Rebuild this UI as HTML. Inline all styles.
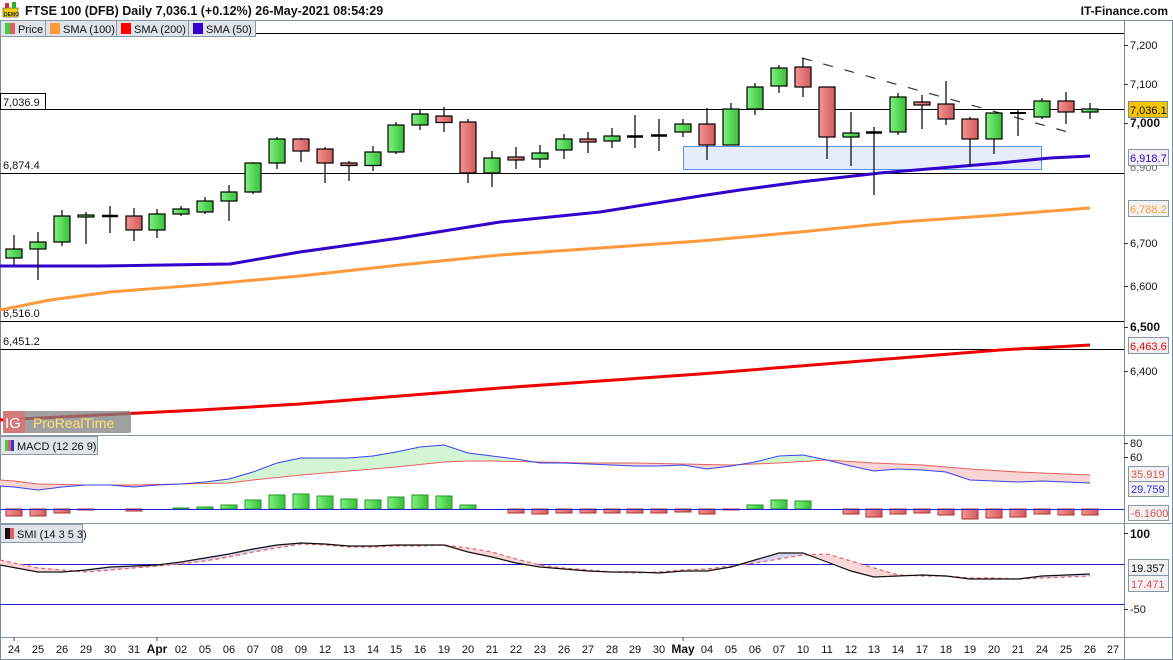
<!DOCTYPE html>
<html><head><meta charset="utf-8"><style>
html,body{margin:0;padding:0;background:#fff;}
body{width:1173px;height:660px;overflow:hidden;font-family:"Liberation Sans",sans-serif;}
svg{display:block}
</style></head><body>
<svg width="1173" height="660" viewBox="0 0 1173 660" xmlns="http://www.w3.org/2000/svg" font-family="Liberation Sans, sans-serif">
<defs>
<linearGradient id="gg" x1="0" x2="1" y1="0" y2="0"><stop offset="0" stop-color="#80f080"/><stop offset="1" stop-color="#38c038"/></linearGradient>
<linearGradient id="rg" x1="0" x2="1" y1="0" y2="0"><stop offset="0" stop-color="#f49494"/><stop offset="1" stop-color="#d25a5a"/></linearGradient>
<clipPath id="plot"><rect x="0" y="38" width="1124" height="600"/></clipPath>
<clipPath id="macdUp"><polygon points="0,435 0,480 14,481 38,484 86,485 134,485 181,484 229,483 253,480 301,475 349,471 396,467 444,462 468,461 492,461 540,462 588,463 635,463 683,464 731,465 779,463 827,460 874,463 922,465 970,469 1018,472 1066,474 1090,475 1124,475 1124,435"/></clipPath>
<clipPath id="macdDn"><polygon points="0,523 0,480 14,481 38,484 86,485 134,485 181,484 229,483 253,480 301,475 349,471 396,467 444,462 468,461 492,461 540,462 588,463 635,463 683,464 731,465 779,463 827,460 874,463 922,465 970,469 1018,472 1066,474 1090,475 1124,475 1124,523"/></clipPath>
<clipPath id="smiUp"><polygon points="0,523 0,560 38,568 62,570 86,572 110,570 134,568 157,566 181,564 205,561 229,557 253,552 277,548 301,544 325,545 349,547 373,547 396,546 420,546 444,545 468,548 492,552 516,559 540,565 564,568 588,570 612,572 635,573 659,572 683,570 707,569 731,566 755,563 779,559 803,555 827,554 851,561 874,568 898,575 922,576 946,576 970,578 994,578 1018,579 1042,578 1066,577 1090,576 1124,576 1124,523"/></clipPath>
<clipPath id="smiDn"><polygon points="0,637 0,560 38,568 62,570 86,572 110,570 134,568 157,566 181,564 205,561 229,557 253,552 277,548 301,544 325,545 349,547 373,547 396,546 420,546 444,545 468,548 492,552 516,559 540,565 564,568 588,570 612,572 635,573 659,572 683,570 707,569 731,566 755,563 779,559 803,555 827,554 851,561 874,568 898,575 922,576 946,576 970,578 994,578 1018,579 1042,578 1066,577 1090,576 1124,576 1124,637"/></clipPath>
</defs>

<!-- header -->
<rect x="0" y="0" width="1173" height="20" fill="#fff"/>
<rect x="3" y="8" width="15" height="9" fill="#f2d200" stroke="#444" stroke-width="0.6"/>
<rect x="5" y="3" width="4" height="5" fill="#d03030"/><rect x="12" y="2" width="4" height="6" fill="#30b030"/>
<text x="4" y="16" font-size="5" font-weight="bold" fill="#222">DEMO</text>
<text x="25" y="15" font-size="12.5" font-weight="bold" fill="#111">FTSE 100 (DFB) Daily 7,036.1 (+0.12%) 26-May-2021 08:54:29</text>
<text x="1168" y="15" font-size="12" font-weight="bold" fill="#111" text-anchor="end">IT-Finance.com</text>

<!-- panel frame -->
<rect x="0.5" y="20.5" width="1172" height="639" fill="none" stroke="#7a8a96"/>
<line x1="1124.5" y1="20" x2="1124.5" y2="660" stroke="#7a8a96"/>
<line x1="0" y1="435.5" x2="1173" y2="435.5" stroke="#8a98a4"/>
<line x1="0" y1="523.5" x2="1173" y2="523.5" stroke="#8a98a4"/>
<line x1="0" y1="637.5" x2="1173" y2="637.5" stroke="#8a98a4"/>

<!-- horizontal price lines -->
<g stroke="#000" stroke-width="1">
<line x1="255" y1="33.5" x2="1124" y2="33.5"/>
<line x1="0" y1="109.5" x2="1124" y2="109.5"/>
<line x1="0" y1="173.5" x2="1124" y2="173.5"/>
<line x1="0" y1="321.5" x2="1124" y2="321.5"/>
<line x1="0" y1="349.5" x2="1124" y2="349.5"/>
</g>
<rect x="0.5" y="93.5" width="45" height="16" fill="#fff" stroke="#000"/>
<text x="3" y="106" font-size="11" fill="#111">7,036.9</text>
<text x="3" y="169" font-size="11" fill="#111">6,874.4</text>
<text x="3" y="317" font-size="11" fill="#111">6,516.0</text>
<text x="3" y="345" font-size="11" fill="#111">6,451.2</text>

<!-- blue zone -->
<rect x="683.5" y="146.5" width="358" height="23" fill="#dde6fb" fill-opacity="0.75" stroke="#5b8ff0"/>

<!-- trendline -->
<line x1="802" y1="58" x2="1068" y2="132" stroke="#333" stroke-width="1.2" stroke-dasharray="10,12"/>

<!-- SMAs -->
<g clip-path="url(#plot)" fill="none" stroke-linejoin="round">
<polyline stroke="#ff9a3c" stroke-width="3" points="0,310 50,300 110,292 200,285 300,276 400,265 500,255 600,248 700,241 800,232 900,222 1000,215 1090,208"/>
<polyline stroke="#ee0000" stroke-width="3" points="0,420 100,415 200,410 300,404 400,396 500,388 600,381 700,374 800,366 900,358 1000,350 1090,345"/>
<polyline stroke="#3300cc" stroke-width="3" points="0,266 100,266 230,264 300,252 400,238 500,222 600,212 700,196 740,190 800,182 880,173 940,168 1000,163 1050,158 1090,156"/>
</g>

<!-- candles -->
<g stroke="#000" stroke-width="1.2">
<line x1="14" y1="235" x2="14" y2="265"/><rect x="6" y="249" width="16" height="9" fill="url(#gg)"/>
<line x1="38" y1="232" x2="38" y2="280"/><rect x="30" y="242" width="16" height="7" fill="url(#gg)"/>
<line x1="62" y1="210" x2="62" y2="246"/><rect x="54" y="216" width="16" height="26" fill="url(#gg)"/>
<line x1="86" y1="212" x2="86" y2="244"/><rect x="78" y="215" width="16" height="2" fill="url(#gg)"/>
<line x1="110" y1="206" x2="110" y2="233"/><line x1="102" y1="216" x2="118" y2="216" stroke-width="2.5"/>
<line x1="134" y1="208" x2="134" y2="241"/><rect x="126" y="216" width="16" height="14" fill="url(#rg)"/>
<line x1="157" y1="209" x2="157" y2="238"/><rect x="149" y="214" width="16" height="16" fill="url(#gg)"/>
<line x1="181" y1="206" x2="181" y2="216"/><rect x="173" y="209" width="16" height="5" fill="url(#gg)"/>
<line x1="205" y1="197" x2="205" y2="214"/><rect x="197" y="201" width="16" height="11" fill="url(#gg)"/>
<line x1="229" y1="185" x2="229" y2="221"/><rect x="221" y="192" width="16" height="9" fill="url(#gg)"/>
<line x1="253" y1="162" x2="253" y2="194"/><rect x="245" y="163" width="16" height="29" fill="url(#gg)"/>
<line x1="277" y1="137" x2="277" y2="169"/><rect x="269" y="139" width="16" height="24" fill="url(#gg)"/>
<line x1="301" y1="138" x2="301" y2="162"/><rect x="293" y="139" width="16" height="12" fill="url(#rg)"/>
<line x1="325" y1="147" x2="325" y2="183"/><rect x="317" y="149" width="16" height="14" fill="url(#rg)"/>
<line x1="349" y1="161" x2="349" y2="181"/><rect x="341" y="163" width="16" height="2.5" fill="url(#rg)"/>
<line x1="373" y1="146" x2="373" y2="171"/><rect x="365" y="152" width="16" height="13.5" fill="url(#gg)"/>
<line x1="396" y1="122" x2="396" y2="154"/><rect x="388" y="125" width="16" height="27" fill="url(#gg)"/>
<line x1="420" y1="110" x2="420" y2="130"/><rect x="412" y="114" width="16" height="11" fill="url(#gg)"/>
<line x1="444" y1="107" x2="444" y2="132"/><rect x="436" y="116" width="16" height="6.5" fill="url(#rg)"/>
<line x1="468" y1="119" x2="468" y2="183"/><rect x="460" y="122" width="16" height="51" fill="url(#rg)"/>
<line x1="492" y1="151" x2="492" y2="187"/><rect x="484" y="158" width="16" height="15" fill="url(#gg)"/>
<line x1="516" y1="147" x2="516" y2="169"/><rect x="508" y="157" width="16" height="3" fill="url(#rg)"/>
<line x1="540" y1="145" x2="540" y2="168"/><rect x="532" y="153" width="16" height="6" fill="url(#gg)"/>
<line x1="564" y1="134" x2="564" y2="159"/><rect x="556" y="139" width="16" height="11" fill="url(#gg)"/>
<line x1="588" y1="132" x2="588" y2="153"/><rect x="580" y="139" width="16" height="3" fill="url(#rg)"/>
<line x1="612" y1="128" x2="612" y2="148"/><rect x="604" y="136" width="16" height="5" fill="url(#gg)"/>
<line x1="635" y1="115" x2="635" y2="148"/><line x1="627" y1="136.5" x2="643" y2="136.5" stroke-width="2.5"/>
<line x1="659" y1="119" x2="659" y2="151"/><line x1="651" y1="135.5" x2="667" y2="135.5" stroke-width="2.5"/>
<line x1="683" y1="119" x2="683" y2="137"/><rect x="675" y="124" width="16" height="8" fill="url(#gg)"/>
<line x1="707" y1="108" x2="707" y2="160"/><rect x="699" y="124" width="16" height="21" fill="url(#rg)"/>
<line x1="731" y1="103" x2="731" y2="145"/><rect x="723" y="109" width="16" height="36" fill="url(#gg)"/>
<line x1="755" y1="83" x2="755" y2="115"/><rect x="747" y="87" width="16" height="22" fill="url(#gg)"/>
<line x1="779" y1="65" x2="779" y2="93"/><rect x="771" y="68" width="16" height="18" fill="url(#gg)"/>
<line x1="803" y1="58" x2="803" y2="97"/><rect x="795" y="67" width="16" height="20" fill="url(#rg)"/>
<line x1="827" y1="87" x2="827" y2="159"/><rect x="819" y="87" width="16" height="50" fill="url(#rg)"/>
<line x1="851" y1="112" x2="851" y2="166"/><rect x="843" y="133" width="16" height="4" fill="url(#gg)"/>
<line x1="874" y1="127" x2="874" y2="195"/><line x1="866" y1="132.5" x2="882" y2="132.5" stroke-width="2.5"/>
<line x1="898" y1="93" x2="898" y2="135"/><rect x="890" y="97" width="16" height="35" fill="url(#gg)"/>
<line x1="922" y1="95" x2="922" y2="129"/><rect x="914" y="102" width="16" height="3" fill="url(#rg)"/>
<line x1="946" y1="81" x2="946" y2="125"/><rect x="938" y="104" width="16" height="15" fill="url(#rg)"/>
<line x1="970" y1="117" x2="970" y2="166"/><rect x="962" y="119" width="16" height="20" fill="url(#rg)"/>
<line x1="994" y1="113" x2="994" y2="154"/><rect x="986" y="113" width="16" height="26" fill="url(#gg)"/>
<line x1="1018" y1="110" x2="1018" y2="136"/><line x1="1010" y1="113" x2="1026" y2="113" stroke-width="2"/>
<line x1="1042" y1="98" x2="1042" y2="119"/><rect x="1034" y="101" width="16" height="16" fill="url(#gg)"/>
<line x1="1066" y1="92" x2="1066" y2="124"/><rect x="1058" y="101" width="16" height="11" fill="url(#rg)"/>
<line x1="1090" y1="103" x2="1090" y2="119"/><rect x="1082" y="109" width="16" height="3" fill="url(#gg)"/>
</g>

<!-- ProRealTime watermark -->
<rect x="3" y="411" width="128" height="22" rx="2" fill="#808080" fill-opacity="0.75"/>
<rect x="3" y="411" width="22" height="22" fill="#e07070" fill-opacity="0.8"/>
<text x="5" y="428" font-size="15" fill="#fff">IG</text>
<text x="33" y="428" font-size="14" fill="#ffe070">ProRealTime</text>

<!-- legend -->
<g font-size="11" fill="#111">
<rect x="0.5" y="20.5" width="255" height="16" fill="#dfe4ea" stroke="#8a98a4"/>
<line x1="45.5" y1="20" x2="45.5" y2="37" stroke="#8a98a4"/>
<line x1="116.5" y1="20" x2="116.5" y2="37" stroke="#8a98a4"/>
<line x1="188.5" y1="20" x2="188.5" y2="37" stroke="#8a98a4"/>
<rect x="5" y="23" width="5" height="11" fill="#44cc44"/><rect x="10" y="23" width="5" height="11" fill="#e06060"/>
<text x="18" y="33">Price</text>
<rect x="50" y="23" width="10" height="11" fill="#ff9a3c"/><text x="63" y="33">SMA (100)</text>
<rect x="121" y="23" width="10" height="11" fill="#ff0000"/><text x="134" y="33">SMA (200)</text>
<rect x="193" y="23" width="10" height="11" fill="#3300cc"/><text x="206" y="33">SMA (50)</text>
</g>

<!-- MACD -->
<g>
<polygon clip-path="url(#macdUp)" fill="#d4f5d4" points="0,486 14,487 38,490 62,487 86,485 110,485 134,487 157,485 181,484 205,482 229,479 253,472 277,463 301,458 325,458 349,458 373,456 396,452 420,447 444,445 468,453 492,456 516,459 540,463 564,463 588,464 612,465 635,466 659,466 683,465 707,469 731,466 755,462 779,456 803,455 827,460 851,466 874,471 898,469 922,470 946,472 970,480 994,481 1018,482 1042,481 1066,482 1090,483 1090,475 1066,474 1018,472 970,469 922,465 874,463 827,460 779,463 731,465 683,464 635,463 588,463 540,462 492,461 468,461 444,462 396,467 349,471 301,475 253,480 229,483 181,484 134,485 86,485 38,484 14,481 0,480"/>
<polygon clip-path="url(#macdDn)" fill="#f8d4d4" points="0,486 14,487 38,490 62,487 86,485 110,485 134,487 157,485 181,484 205,482 229,479 253,472 277,463 301,458 325,458 349,458 373,456 396,452 420,447 444,445 468,453 492,456 516,459 540,463 564,463 588,464 612,465 635,466 659,466 683,465 707,469 731,466 755,462 779,456 803,455 827,460 851,466 874,471 898,469 922,470 946,472 970,480 994,481 1018,482 1042,481 1066,482 1090,483 1090,475 1066,474 1018,472 970,469 922,465 874,463 827,460 779,463 731,465 683,464 635,463 588,463 540,462 492,461 468,461 444,462 396,467 349,471 301,475 253,480 229,483 181,484 134,485 86,485 38,484 14,481 0,480"/>
<polyline fill="none" stroke="#e86060" stroke-width="1" points="0,480 14,481 38,484 86,485 134,485 181,484 229,483 253,480 301,475 349,471 396,467 444,462 468,461 492,461 540,462 588,463 635,463 683,464 731,465 779,463 827,460 874,463 922,465 970,469 1018,472 1066,474 1090,475"/>
<polyline fill="none" stroke="#3344ee" stroke-width="1" points="0,486 14,487 38,490 62,487 86,485 110,485 134,487 157,485 181,484 205,482 229,479 253,472 277,463 301,458 325,458 349,458 373,456 396,452 420,447 444,445 468,453 492,456 516,459 540,463 564,463 588,464 612,465 635,466 659,466 683,465 707,469 731,466 755,462 779,456 803,455 827,460 851,466 874,471 898,469 922,470 946,472 970,480 994,481 1018,482 1042,481 1066,482 1090,483"/>
<g stroke="#b03030" fill="url(#rg)" stroke-width="1">
<rect x="6" y="509" width="16" height="7"/><rect x="30" y="509" width="16" height="7"/><rect x="54" y="509" width="16" height="4"/><rect x="78" y="509" width="16" height="1"/><rect x="126" y="509" width="16" height="2"/>
<rect x="508" y="509" width="16" height="4"/><rect x="532" y="509" width="16" height="5"/><rect x="556" y="509" width="16" height="4"/><rect x="580" y="509" width="16" height="4"/><rect x="604" y="509" width="16" height="4"/><rect x="627" y="509" width="16" height="4"/><rect x="651" y="509" width="16" height="4"/><rect x="675" y="509" width="16" height="3"/><rect x="699" y="509" width="16" height="5"/><rect x="723" y="509" width="16" height="1"/>
<rect x="843" y="509" width="16" height="5"/><rect x="866" y="509" width="16" height="8"/><rect x="890" y="509" width="16" height="5"/><rect x="914" y="509" width="16" height="4"/><rect x="938" y="509" width="16" height="6"/><rect x="962" y="509" width="16" height="10"/><rect x="986" y="509" width="16" height="9"/><rect x="1010" y="509" width="16" height="8"/><rect x="1034" y="509" width="16" height="5"/><rect x="1058" y="509" width="16" height="6"/><rect x="1082" y="509" width="16" height="6"/>
</g>
<g stroke="#229922" fill="url(#gg)" stroke-width="1">
<rect x="173" y="508" width="16" height="1"/><rect x="197" y="507" width="16" height="2"/><rect x="221" y="505" width="16" height="4"/><rect x="245" y="500" width="16" height="9"/><rect x="269" y="495" width="16" height="14"/><rect x="293" y="494" width="16" height="15"/><rect x="317" y="496" width="16" height="13"/><rect x="341" y="499" width="16" height="10"/><rect x="365" y="500" width="16" height="9"/><rect x="388" y="497" width="16" height="12"/><rect x="412" y="495" width="16" height="14"/><rect x="436" y="496" width="16" height="13"/><rect x="460" y="505" width="16" height="4"/>
<rect x="747" y="505" width="16" height="4"/><rect x="771" y="500" width="16" height="9"/><rect x="795" y="501" width="16" height="8"/>
</g>
<line x1="0" y1="509.5" x2="1124" y2="509.5" stroke="#2222dd"/>
<rect x="0.5" y="436.5" width="97" height="18" fill="#dfe4ea" stroke="#8a98a4"/>
<rect x="5" y="440" width="3" height="11" fill="#44cc44"/><rect x="8" y="440" width="3" height="11" fill="#e06060"/><rect x="11" y="440" width="3" height="11" fill="#3333dd"/>
<text x="17" y="450" font-size="11" fill="#111">MACD (12 26 9)</text>
</g>

<!-- SMI -->
<g>
<line x1="0" y1="564.5" x2="1124" y2="564.5" stroke="#2222dd"/>
<line x1="0" y1="604.5" x2="1124" y2="604.5" stroke="#2222dd"/>
<polygon clip-path="url(#smiUp)" fill="#d4d4f0" points="0,565 38,572 62,572 86,570 110,567 134,566 157,565 181,562 205,558 229,554 253,549 277,545 301,543 325,544 349,546 373,546 396,545 420,545 444,545 468,552 492,557 516,563 540,567 564,569 588,571 612,572 635,572 659,573 683,571 707,571 731,567 755,560 779,553 803,553 827,562 851,571 874,577 898,576 922,575 946,576 970,579 994,579 1018,579 1042,576 1066,575 1090,574 1090,576 1066,577 1042,578 1018,579 994,578 970,578 946,576 922,576 898,575 874,568 851,561 827,554 803,555 779,559 755,563 731,566 707,569 683,570 659,572 635,573 612,572 588,570 564,568 540,565 516,559 492,552 468,548 444,545 420,546 396,546 373,547 349,547 325,545 301,544 277,548 253,552 229,557 205,561 181,564 157,566 134,568 110,570 86,572 62,570 38,568 0,560"/>
<polygon clip-path="url(#smiDn)" fill="#f8d8d8" points="0,565 38,572 62,572 86,570 110,567 134,566 157,565 181,562 205,558 229,554 253,549 277,545 301,543 325,544 349,546 373,546 396,545 420,545 444,545 468,552 492,557 516,563 540,567 564,569 588,571 612,572 635,572 659,573 683,571 707,571 731,567 755,560 779,553 803,553 827,562 851,571 874,577 898,576 922,575 946,576 970,579 994,579 1018,579 1042,576 1066,575 1090,574 1090,576 1066,577 1042,578 1018,579 994,578 970,578 946,576 922,576 898,575 874,568 851,561 827,554 803,555 779,559 755,563 731,566 707,569 683,570 659,572 635,573 612,572 588,570 564,568 540,565 516,559 492,552 468,548 444,545 420,546 396,546 373,547 349,547 325,545 301,544 277,548 253,552 229,557 205,561 181,564 157,566 134,568 110,570 86,572 62,570 38,568 0,560"/>
<polyline fill="none" stroke="#e86060" stroke-width="1.2" stroke-dasharray="4,3" points="0,560 38,568 62,570 86,572 110,570 134,568 157,566 181,564 205,561 229,557 253,552 277,548 301,544 325,545 349,547 373,547 396,546 420,546 444,545 468,548 492,552 516,559 540,565 564,568 588,570 612,572 635,573 659,572 683,570 707,569 731,566 755,563 779,559 803,555 827,554 851,561 874,568 898,575 922,576 946,576 970,578 994,578 1018,579 1042,578 1066,577 1090,576"/>
<polyline fill="none" stroke="#111" stroke-width="1.2" points="0,565 38,572 62,572 86,570 110,567 134,566 157,565 181,562 205,558 229,554 253,549 277,545 301,543 325,544 349,546 373,546 396,545 420,545 444,545 468,552 492,557 516,563 540,567 564,569 588,571 612,572 635,572 659,573 683,571 707,571 731,567 755,560 779,553 803,553 827,562 851,571 874,577 898,576 922,575 946,576 970,579 994,579 1018,579 1042,576 1066,575 1090,574"/>
<rect x="0.5" y="524.5" width="82" height="18" fill="#dfe4ea" stroke="#8a98a4"/>
<rect x="5" y="528" width="5" height="11" fill="#111"/><rect x="10" y="528" width="4" height="11" fill="#e06060"/>
<text x="17" y="538" font-size="11" fill="#111">SMI (14 3 5 3)</text>
</g>

<!-- right axis -->
<g font-size="11" fill="#111" stroke-width="1">
<g stroke="#333"><line x1="1124" y1="45.5" x2="1128" y2="45.5"/><line x1="1124" y1="84.5" x2="1128" y2="84.5"/><line x1="1124" y1="123.5" x2="1128" y2="123.5"/><line x1="1124" y1="243.5" x2="1128" y2="243.5"/><line x1="1124" y1="286.5" x2="1128" y2="286.5"/><line x1="1124" y1="327.5" x2="1128" y2="327.5"/><line x1="1124" y1="371.5" x2="1128" y2="371.5"/><line x1="1124" y1="443.5" x2="1128" y2="443.5"/><line x1="1124" y1="457.5" x2="1128" y2="457.5"/><line x1="1124" y1="533.5" x2="1128" y2="533.5"/><line x1="1124" y1="609.5" x2="1128" y2="609.5"/></g>
<text x="1130" y="49">7,200</text>
<text x="1130" y="88">7,100</text>
<text x="1130" y="127" font-weight="bold" font-size="12">7,000</text>
<text x="1130" y="247">6,700</text>
<text x="1130" y="290">6,600</text>
<text x="1130" y="331" font-weight="bold" font-size="12">6,500</text>
<text x="1130" y="375">6,400</text>
<rect x="1128.5" y="101.5" width="39" height="16" fill="#f5c400" stroke="#888"/>
<text x="1130" y="114">7,036.1</text>
<text x="1130" y="171" fill="#666">6,900</text>
<rect x="1128.5" y="149.5" width="40" height="16" fill="#f2f2f2" stroke="#8a98a4"/>
<text x="1130" y="162" fill="#3300cc">6,918.7</text>
<text x="1130" y="212" fill="#aaa">6,800</text>
<rect x="1128.5" y="200.5" width="40" height="16" fill="#f2f2f2" stroke="#8a98a4"/>
<text x="1130" y="213" fill="#ff9a3c">6,788.2</text>
<rect x="1128.5" y="337.5" width="40" height="16" fill="#f2f2f2" stroke="#8a98a4"/>
<text x="1130" y="350" fill="#ee0000">6,463.6</text>
<text x="1130" y="447">80</text>
<text x="1130" y="461">60</text>
<rect x="1128.5" y="466.5" width="40" height="15" fill="#f2f2f2" stroke="#8a98a4"/>
<text x="1131" y="478" fill="#e05050">35.919</text>
<rect x="1128.5" y="481.5" width="40" height="15" fill="#f2f2f2" stroke="#8a98a4"/>
<text x="1131" y="493" fill="#3333dd">29.759</text>
<rect x="1128.5" y="505.5" width="40" height="15" fill="#f2f2f2" stroke="#8a98a4"/>
<text x="1131" y="517" fill="#e05050">-6.1600</text>
<text x="1130" y="538" font-weight="bold" font-size="12">100</text>
<rect x="1128.5" y="559.5" width="40" height="16" fill="#f2f2f2" stroke="#8a98a4"/>
<text x="1131" y="572" fill="#111">19.357</text>
<rect x="1128.5" y="575.5" width="40" height="16" fill="#f2f2f2" stroke="#8a98a4"/>
<text x="1131" y="588" fill="#e05050">17.471</text>
<text x="1130" y="613">-50</text>
</g>

<!-- date axis -->
<g font-size="11" fill="#111" text-anchor="middle">
<g stroke="#555"><line x1="14" y1="637" x2="14" y2="641"/><line x1="157" y1="637" x2="157" y2="641"/><line x1="683" y1="637" x2="683" y2="641"/></g>
<text x="14" y="653">24</text><text x="38" y="653">25</text><text x="62" y="653">26</text><text x="86" y="653">29</text><text x="110" y="653">30</text><text x="134" y="653">31</text><text x="157" y="653" font-weight="bold" font-size="12">Apr</text><text x="181" y="653">02</text><text x="205" y="653">05</text><text x="229" y="653">06</text><text x="253" y="653">07</text><text x="277" y="653">08</text><text x="301" y="653">09</text><text x="325" y="653">12</text><text x="349" y="653">13</text><text x="373" y="653">14</text><text x="396" y="653">15</text><text x="420" y="653">16</text><text x="444" y="653">19</text><text x="468" y="653">20</text><text x="492" y="653">21</text><text x="516" y="653">22</text><text x="540" y="653">23</text><text x="564" y="653">26</text><text x="588" y="653">27</text><text x="612" y="653">28</text><text x="635" y="653">29</text><text x="659" y="653">30</text><text x="683" y="653" font-weight="bold" font-size="12">May</text><text x="707" y="653">04</text><text x="731" y="653">05</text><text x="755" y="653">06</text><text x="779" y="653">07</text><text x="803" y="653">10</text><text x="827" y="653">11</text><text x="851" y="653">12</text><text x="874" y="653">13</text><text x="898" y="653">14</text><text x="922" y="653">17</text><text x="946" y="653">18</text><text x="970" y="653">19</text><text x="994" y="653">20</text><text x="1018" y="653">21</text><text x="1042" y="653">24</text><text x="1066" y="653">25</text><text x="1090" y="653">26</text><text x="1113" y="653">27</text>
</g>
</svg>
</body></html>
